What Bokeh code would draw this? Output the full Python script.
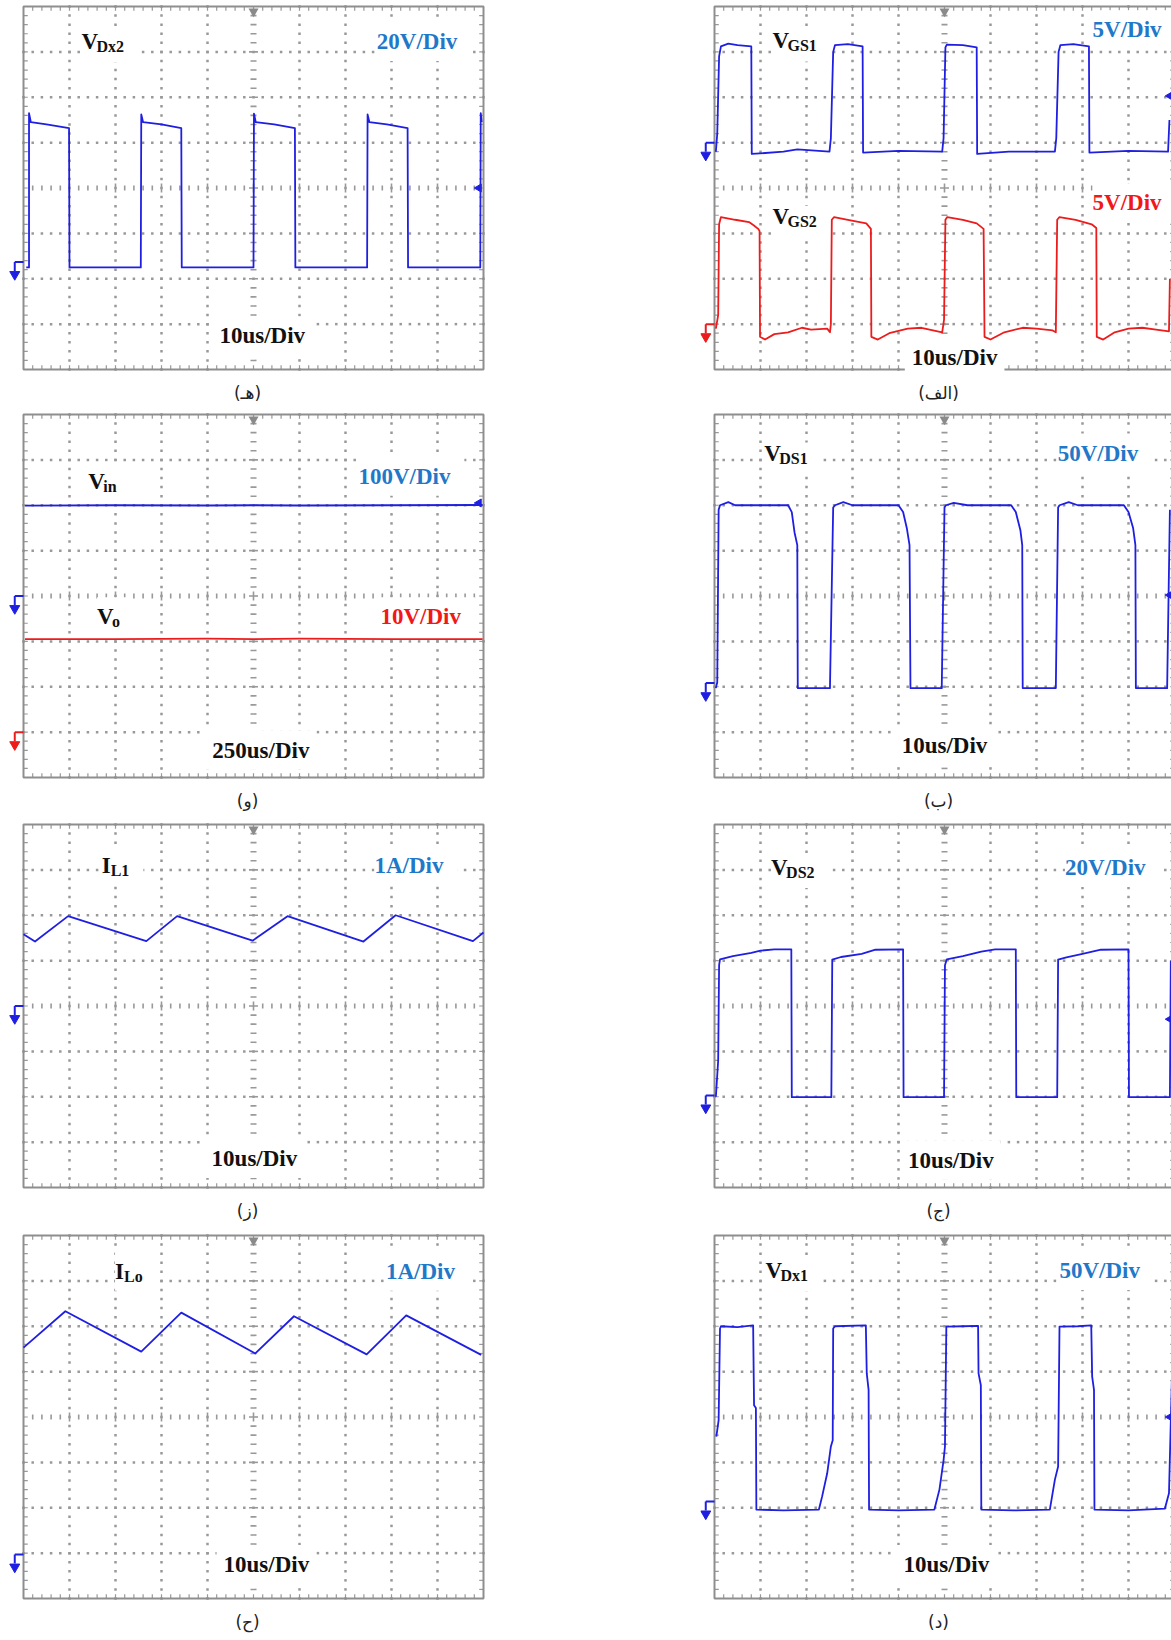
import numpy as np
from bokeh.plotting import figure
from bokeh.models import Range1d, ColumnDataSource
from bokeh.layouts import column, row
from bokeh.core.properties import value
from bokeh.embed import file_html
from bokeh.resources import INLINE

# ---------------- data (time in us, values in V or A) ----------------
# (هـ) V_Dx2, 20 V/div, 10 us/div
VDX2_T = [0.6, 1.2, 1.2, 1.6, 5.0, 9.9, 10.0, 25.5, 25.6, 26.0, 30.0, 34.3, 34.4, 50.0, 50.1, 50.5,
          54.5, 59.0, 59.1, 74.7, 74.8, 75.2, 79.0, 83.5, 83.6, 99.3, 99.4, 99.6]
VDX2_V = [0, 0, 68, 64, 63, 61.4, 0, 0, 67.4, 64, 63, 61.4, 0, 0, 67.8, 64,
          63, 61.4, 0, 0, 67.4, 64, 63, 61.4, 0, 0, 68, 64]

# (الف) V_GS1 and V_GS2, 5 V/div
VGS1_T = [0.3, 0.6, 1.0, 1.4, 3.0, 5.0, 8.0, 8.1, 15, 18, 25.0, 25.3, 25.8, 26.2, 29, 32.2, 32.3, 40,
          49.5, 49.8, 50.2, 50.5, 54, 57.0, 57.1, 64, 74.0, 74.3, 74.8, 75.2, 78, 81.4, 81.5, 90, 98.6, 98.9]
VGS1_V = [-1.0, 1.0, 9.5, 10.6, 10.9, 10.75, 10.6, -1.25, -1.0, -0.75, -1.0, 0.5, 10.0, 10.75, 10.85, 10.6, -1.1, -0.9,
          -1.0, 0.5, 10.5, 10.8, 10.75, 10.5, -1.25, -1.0, -1.0, 0.5, 10.0, 10.75, 10.85, 10.6, -1.1, -0.9, -1.0, 2.5]
VGS2_T = [0.3, 0.8, 1.0, 1.4, 4.5, 7.5, 8.5, 9.5, 9.8, 9.9, 11, 13, 16, 19, 21, 24.5, 25.1, 25.3, 25.5, 26.0,
          29, 33, 34.0, 34.1, 35.5, 38, 42, 45, 49.5, 49.9, 50.2, 50.6, 54, 57, 58.5, 58.7, 60, 63, 67, 70,
          73.5, 74.2, 74.5, 75.0, 78.5, 82, 83.0, 83.1, 84.5, 87, 90, 93, 96, 98.8, 99.0]
VGS2_V = [-0.5, 1.0, 11.0, 11.8, 11.5, 11.25, 10.9, 10.5, 10.25, -1.4, -1.7, -1.1, -0.9, -0.4, -0.6, -0.5, -0.9, 0.0, 11.5, 11.8,
          11.5, 11.1, 10.5, -1.4, -1.7, -1.0, -0.5, -0.4, -0.9, 0.5, 11.5, 11.8, 11.5, 11.1, 10.5, -1.4, -1.7, -0.9, -0.4, -0.5,
          -0.7, -0.9, 11.5, 11.8, 11.5, 11.0, 10.6, -1.4, -1.7, -0.9, -0.5, -0.4, -0.6, -0.8, 5.0]

# (و) V_in (100 V/div) and V_o (10 V/div), 250 us/div
VIN_T = [8, 500, 1000, 1250, 1500, 2000, 2495]
VIN_V = [199.0, 200.0, 199.5, 200.0, 199.5, 200.0, 200.5]
VO_T = [8, 500, 1000, 1250, 1500, 2000, 2495]
VO_V = [20.5, 20.5, 20.6, 20.5, 20.6, 20.5, 20.5]

# (ب) V_DS1, 50 V/div
VDS1_T = [0.3, 0.6, 0.9, 1.2, 3.0, 4.5, 10, 16.0, 16.8, 17.4, 18.0, 18.1, 25.1, 25.8, 26.2, 28.0, 30.0, 40.0,
          41.0, 41.8, 42.4, 42.6, 49.4, 50.0, 50.3, 52.0, 55.0, 64.5, 65.5, 66.5, 66.9, 67.0, 74.2, 74.7, 75.0,
          77.0, 79.0, 89.0, 90.0, 91.0, 91.5, 91.6, 98.4, 99.0]
VDS1_V = [-1.5, 5, 195, 200, 203.5, 200, 200, 200, 192.5, 170, 156, -1.5, -1.5, 197.5, 200, 203.5, 200, 200,
          192.5, 175, 156, -1.5, -1.5, 197.5, 200, 202.5, 200, 200, 192.5, 172.5, 156, -1.5, -1.5, 197.5, 200,
          203.5, 200, 200, 192.5, 175, 156, -1.5, -1.5, 195]

# (ز) I_L1, 1 A/div
IL1_T = [0, 2.5, 9.7, 26.7, 33.4, 49.8, 57.4, 73.9, 80.9, 97.7, 100]
IL1_V = [1.58, 1.42, 1.98, 1.43, 1.98, 1.44, 1.98, 1.42, 2.0, 1.43, 1.62]

# (ج) V_DS2, 20 V/div
VDS2_T = [0.3, 0.8, 1.0, 1.2, 4, 8, 10, 13, 16.7, 16.8, 25.4, 25.6, 27.5, 32, 35, 41.0, 41.1, 49.9, 50.1,
          50.5, 54, 58, 61, 65.5, 65.6, 74.5, 74.7, 76.5, 80, 84, 90.0, 90.1, 99.0, 99.2]
VDS2_V = [0, 16, 58, 60.6, 62, 63.4, 64.4, 65, 65, -0.2, -0.2, 60.4, 61.6, 63, 64.8, 65, -0.2, -0.2, 58,
          60.6, 62, 64, 65, 65, -0.2, -0.2, 60.4, 61.4, 63, 64.8, 65, -0.2, -0.2, 60]

# (ح) I_Lo, 1 A/div
ILO_T = [0, 9.1, 25.6, 34.3, 50.4, 58.8, 74.6, 83.2, 99.5]
ILO_V = [4.53, 5.33, 4.44, 5.30, 4.40, 5.22, 4.38, 5.24, 4.37]

# (د) V_Dx1, 50 V/div
VDX1_T = [0.4, 0.9, 1.2, 1.4, 5.0, 8.4, 8.6, 9.0, 9.1, 15, 22.7, 23.4, 24.5, 25.3, 25.7, 25.8, 26.2, 32.9,
          33.1, 33.5, 33.6, 40, 47.8, 48.9, 49.8, 50.1, 50.4, 54, 57.3, 57.4, 57.9, 58.0, 65, 72.9, 74.0,
          74.7, 75.0, 79, 81.9, 82.1, 82.5, 82.6, 90, 97.9, 98.8, 99.5]
VDX1_V = [78.5, 96.5, 197.5, 200, 199, 201, 113, 110, -2, -3, -2, 12.5, 38, 67.5, 74.5, 197.5, 200, 201,
          148, 130, -2, -3, -2, 20, 52.5, 67.5, 199.5, 200, 200.5, 148, 135, -2, -3, -2, 31,
          45.5, 199.5, 200, 201, 144.5, 130, -2, -3, -1, 16, 155.5]

CAPTIONS = ["(هـ)", "(الف)", "(و)", "(ب)", "(ز)", "(ج)", "(ح)", "(د)"]

# ---------------- styles ----------------
BLUE = "#1f1fe2"
RED = "#ec1c1c"
LBL_BLUE = "#1f78c8"
LBL_RED = "#f01818"
GRID = "#999999"
BORDER = "#8e8e8e"
SERIF = "Liberation Serif"

PX_X = 46.0
PX_Y = 363.0 / 8.0
TOP_PAD = 6

PANELS = [
    dict(cap=0, tdiv=10, ch=[(VDX2_T, VDX2_V, 2.25, 20, BLUE, 2.37)],
         names=[("V", "Dx2", 1.26, 7.23)], scales=[("20V/Div", 7.68, 7.23, LBL_BLUE)],
         tb=("10us/Div", 5.19, 0.74), rmarks=[(4.0, BLUE)]),
    dict(cap=1, tdiv=10, ch=[(VGS1_T, VGS1_V, 5.0, 5, BLUE, 5.0), (VGS2_T, VGS2_V, 1.0, 5, RED, 1.0)],
         names=[("V", "GS1", 1.26, 7.24), ("V", "GS2", 1.26, 3.38)],
         scales=[("5V/Div", 8.22, 7.49, LBL_BLUE), ("5V/Div", 8.22, 3.67, LBL_RED)],
         tb=("10us/Div", 5.22, 0.27), rmarks=[(6.03, BLUE)]),
    dict(cap=2, tdiv=250, ch=[(VIN_T, VIN_V, 4.0, 100, BLUE, 4.0), (VO_T, VO_V, 1.0, 10, RED, 1.0)],
         names=[("V", "in", 1.41, 6.53), ("V", "o", 1.6, 3.54)],
         scales=[("100V/Div", 7.28, 6.64, LBL_BLUE), ("10V/Div", 7.76, 3.54, LBL_RED)],
         tb=("250us/Div", 5.16, 0.60), rmarks=[(6.05, BLUE)]),
    dict(cap=3, tdiv=10, ch=[(VDS1_T, VDS1_V, 2.0, 50, BLUE, 2.08)],
         names=[("V", "DS1", 1.08, 7.15)], scales=[("50V/Div", 7.46, 7.15, LBL_BLUE)],
         tb=("10us/Div", 5.0, 0.70), rmarks=[(4.02, BLUE)]),
    dict(cap=4, tdiv=10, ch=[(IL1_T, IL1_V, 4.0, 1, BLUE, 4.0)],
         names=[("I", "L1", 1.70, 7.10)], scales=[("1A/Div", 7.63, 7.10, LBL_BLUE)],
         tb=("10us/Div", 5.02, 0.64), rmarks=[]),
    dict(cap=5, tdiv=10, ch=[(VDS2_T, VDS2_V, 2.0, 20, BLUE, 2.03)],
         names=[("V", "DS2", 1.23, 7.05)], scales=[("20V/Div", 7.62, 7.05, LBL_BLUE)],
         tb=("10us/Div", 5.14, 0.60), rmarks=[(3.71, BLUE)]),
    dict(cap=6, tdiv=10, ch=[(ILO_T, ILO_V, 1.0, 1, BLUE, 0.97)],
         names=[("I", "Lo", 1.99, 7.21)], scales=[("1A/Div", 7.88, 7.21, LBL_BLUE)],
         tb=("10us/Div", 5.28, 0.75), rmarks=[]),
    dict(cap=7, tdiv=10, ch=[(VDX1_T, VDX1_V, 2.0, 50, BLUE, 2.14)],
         names=[("V", "Dx1", 1.11, 7.23)], scales=[("50V/Div", 7.50, 7.23, LBL_BLUE)],
         tb=("10us/Div", 5.04, 0.75), rmarks=[(4.0, BLUE)]),
]

SUB_OFF = {"V": 15, "I": 9}


def txt(p, xs, ys, texts, size, color, align="left", font=SERIF, style="bold",
        x_off=0, y_off=0, bg_only=False):
    src = ColumnDataSource(dict(x=xs, y=ys, text=texts))
    kw = {}
    if bg_only:
        kw = dict(background_fill_color="white", padding=7, text_alpha=0.0)
    p.text(x="x", y="y", text="text", source=src, text_font=value(font), text_font_style=style,
           text_font_size=f"{size}px", text_color=color, text_align=align, text_baseline="middle",
           x_offset=x_off, y_offset=y_off, **kw)


def make_panel(cfg, side, height):
    if side == "left":
        width, lpad = 700, 23
    else:
        width, lpad = 471, 14
    x0, x1 = -lpad / PX_X, (width - lpad) / PX_X
    y1, y0 = 8 + TOP_PAD / PX_Y, 8 - (height - TOP_PAD) / PX_Y
    p = figure(width=width, height=height, x_range=Range1d(x0, x1), y_range=Range1d(y0, y1),
               output_backend="svg", toolbar_location=None, min_border=0,
               x_axis_location=None, y_axis_location=None, outline_line_color=None,
               background_fill_color="white", border_fill_color="white")
    p.xgrid.visible = False
    p.ygrid.visible = False
    p.extra_x_ranges = {"t": Range1d(x0 * cfg["tdiv"], x1 * cfg["tdiv"])}
    for i, (_, _, g, s, _, _) in enumerate(cfg["ch"]):
        p.extra_y_ranges[f"c{i}"] = Range1d((y0 - g) * s, (y1 - g) * s)

    # oscilloscope graticule (division units)
    fx = np.round(np.arange(0, 10.0001, 0.2), 2)
    fy = np.round(np.arange(0, 8.0001, 0.2), 2)
    vx = [1, 2, 3, 4, 6, 7, 8, 9]
    hy = [1, 2, 3, 5, 6, 7]
    dx = np.concatenate([np.full(len(fy), x, dtype=float) for x in vx] + [fx for _ in hy])
    dy = np.concatenate([fy for _ in vx] + [np.full(len(fx), y, dtype=float) for y in hy])
    p.scatter(dx, dy, marker="square", size=2.5, fill_color=GRID, line_color=None)

    cx = fx[1:-1]
    cy = fy[1:-1]
    sx = np.where(np.isclose(cx % 1, 0) | np.isclose(cx % 1, 1), 9, 5)
    sy = np.where(np.isclose(cy % 1, 0) | np.isclose(cy % 1, 1), 9, 6)
    p.scatter(cx, np.full(len(cx), 4.0), marker="dash", angle=np.pi / 2, size=sx,
              line_color=GRID, line_width=1.6)
    p.scatter(np.full(len(cy), 5.0), cy, marker="dash", size=sy, line_color=GRID, line_width=1.6)
    # border ticks
    p.scatter(cx, np.full(len(cx), 8 - 0.05), marker="dash", angle=np.pi / 2, size=4,
              line_color=GRID, line_width=1.2)
    p.scatter(cx, np.full(len(cx), 0.05), marker="dash", angle=np.pi / 2, size=4,
              line_color=GRID, line_width=1.2)
    p.scatter(np.full(len(cy), 0.05), cy, marker="dash", size=4, line_color=GRID, line_width=1.2)
    p.scatter(np.full(len(cy), 10 - 0.05), cy, marker="dash", size=4, line_color=GRID, line_width=1.2)
    p.quad(left=0, right=10, bottom=0, top=8, fill_color=None, line_color=BORDER, line_width=2)
    p.scatter([5], [7.89], marker="inverted_triangle", size=10, fill_color="#8a8a8a", line_color=None)

    # ground markers (left) and level markers (right)
    for (_, _, g, s, col, m) in cfg["ch"]:
        p.segment(x0=[0, -0.19], y0=[m, m], x1=[-0.19, -0.19], y1=[m, m - 0.2],
                  line_color=col, line_width=2)
        p.scatter([-0.19], [m - 0.275], marker="inverted_triangle", size=10,
                  fill_color=col, line_color=col)
    for (yl, col) in cfg["rmarks"]:
        p.scatter([9.9], [yl], marker="triangle", angle=np.pi / 2, size=8,
                  fill_color=col, line_color=col)

    # labels: white boxes first, then texts
    nm = cfg["names"]
    sc = cfg["scales"]
    tb = cfg["tb"]
    txt(p, [n[2] for n in nm], [n[3] for n in nm], [n[0] for n in nm], 23, "black", bg_only=True)
    for n in nm:
        txt(p, [n[2]], [n[3]], [n[1]], 16, "black", x_off=SUB_OFF[n[0]], y_off=5, bg_only=True)
    for s_ in sc:
        txt(p, [s_[1]], [s_[2]], [s_[0]], 23, s_[3], bg_only=True)
    txt(p, [tb[1]], [tb[2]], [tb[0]], 23, "black", align="center", bg_only=True)

    txt(p, [n[2] for n in nm], [n[3] for n in nm], [n[0] for n in nm], 23, "#111111")
    for n in nm:
        txt(p, [n[2]], [n[3]], [n[1]], 16, "#111111", x_off=SUB_OFF[n[0]], y_off=5)
    for s_ in sc:
        txt(p, [s_[1]], [s_[2]], [s_[0]], 23, s_[3])
    txt(p, [tb[1]], [tb[2]], [tb[0]], 23, "#111111", align="center")

    # caption
    txt(p, [4.87], [-0.52], [CAPTIONS[cfg["cap"]]], 17, "#222222", align="center",
        font="DejaVu Sans", style="normal")

    # waveforms
    for i, (T, V, g, s, col, m) in enumerate(cfg["ch"]):
        p.line(T, V, x_range_name="t", y_range_name=f"c{i}", line_color=col, line_width=1.8,
               line_join="round")
    return p


HEIGHTS = [408, 410, 411, 410]
rows = []
for r in range(4):
    h = HEIGHTS[r]
    rows.append(row(make_panel(PANELS[2 * r], "left", h), make_panel(PANELS[2 * r + 1], "right", h)))
layout = column(*rows)

open("out.html", "w").write(file_html(layout, INLINE))
